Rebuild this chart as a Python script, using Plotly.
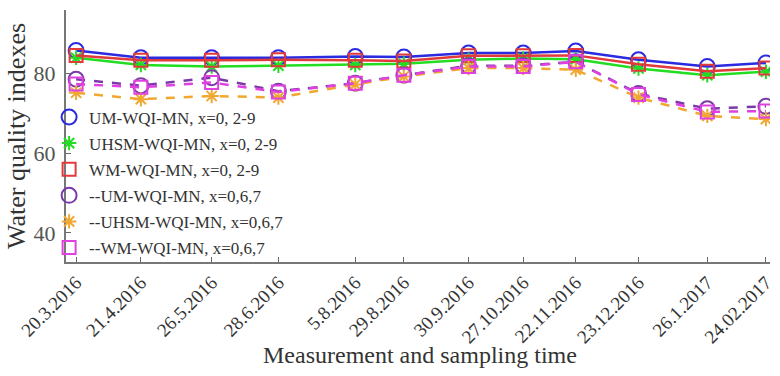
import plotly.graph_objects as go

dates = ["2016-03-20", "2016-04-21", "2016-05-26", "2016-06-28", "2016-08-05", "2016-08-29",
         "2016-09-30", "2016-10-27", "2016-11-22", "2016-12-23", "2017-01-26", "2017-02-24"]
tick_labels = ["20.3.2016", "21.4.2016", "26.5.2016", "28.6.2016", "5.8.2016", "29.8.2016",
               "30.9.2016", "27.10.2016", "22.11.2016", "23.12.2016", "26.1.2017", "24.02.2017"]

um_29 = [85.8, 84.0, 84.0, 84.0, 84.3, 84.2, 85.2, 85.2, 85.7, 83.5, 81.8, 82.7]
uhsm_29 = [84.0, 82.2, 81.8, 82.0, 82.2, 82.5, 83.5, 83.8, 83.6, 81.3, 79.6, 80.5]
wm_29 = [84.6, 83.4, 83.4, 83.5, 83.4, 83.2, 84.5, 84.5, 84.6, 82.4, 80.6, 81.4]
um_067 = [78.6, 77.0, 79.0, 75.6, 77.6, 79.6, 82.0, 82.0, 83.0, 75.0, 71.2, 71.8]
uhsm_067 = [75.2, 73.6, 74.4, 74.0, 77.3, 79.3, 81.4, 81.4, 81.0, 74.0, 69.4, 68.6]
wm_067 = [77.4, 76.6, 77.8, 75.4, 77.6, 79.6, 81.8, 81.8, 83.0, 74.8, 70.4, 70.6]

names = ["UM-WQI-MN, x=0, 2-9", "UHSM-WQI-MN, x=0, 2-9", "WM-WQI-MN, x=0, 2-9",
         "--UM-WQI-MN, x=0,6,7", "--UHSM-WQI-MN, x=0,6,7", "--WM-WQI-MN, x=0,6,7"]
series = [um_29, uhsm_29, wm_29, um_067, uhsm_067, wm_067]
colors = ["#2a2ae0", "#22dd22", "#e03a3a", "#7a3aa8", "#f0a830", "#e040e0"]
symbols = ["circle-open", "asterisk-open", "square-open", "circle-open", "asterisk-open", "square-open"]
dashes = ["solid", "solid", "solid", "dash", "dash", "dash"]
sizes = [15, 12, 13, 15, 12, 13]

fig = go.Figure()
for i in range(6):
    fig.add_trace(go.Scatter(
        x=dates, y=series[i], mode="lines+markers", showlegend=False,
        line=dict(color=colors[i], width=2.5, dash=dashes[i]),
        marker=dict(symbol=symbols[i], size=sizes[i], color=colors[i], line=dict(width=2, color=colors[i])),
    ))
for i in range(6):
    fig.add_trace(go.Scatter(
        x=[None], y=[None], mode="markers", name=names[i], legendgroup=str(i),
        marker=dict(symbol=symbols[i], size=sizes[i], color=colors[i], line=dict(width=2, color=colors[i])),
    ))

serif = "Liberation Serif"
fig.update_layout(
    width=780, height=376,
    margin=dict(l=66, r=10, t=10, b=114),
    plot_bgcolor="white", paper_bgcolor="white",
    font=dict(family=serif, size=16, color="#333333"),
    showlegend=True,
    legend=dict(x=-0.024, y=0.645, xanchor="left", yanchor="top",
                bgcolor="rgba(0,0,0,0)", font=dict(family=serif, size=17, color="#333333"),
                traceorder="grouped", tracegroupgap=1, itemwidth=30),
    xaxis=dict(
        type="date", range=["2016-03-15", "2017-02-26"], automargin=False,
        tickmode="array", tickvals=dates, ticktext=tick_labels, tickangle=-45,
        ticks="inside", ticklen=5, tickcolor="#666666",
        showline=True, linecolor="#777777", linewidth=2, showgrid=False, zeroline=False,
        tickfont=dict(family=serif, size=19, color="#333333"),
    ),
    yaxis=dict(
        range=[32.7, 96], tickvals=[40, 60, 80], ticks="inside", ticklen=5, tickcolor="#666666",
        showline=True, linecolor="#777777", linewidth=2, showgrid=False, zeroline=False, automargin=False,
        tickfont=dict(family=serif, size=22, color="#555555"), ticklabelstandoff=4,
    ),
    annotations=[
        dict(text="Measurement and sampling time", xref="paper", yref="paper", x=0.503, y=-0.37,
             xanchor="center", yanchor="middle", showarrow=False,
             font=dict(family=serif, size=24, color="#333333")),
        dict(text="Water quality indexes", xref="paper", yref="paper", x=-0.071, y=0.50,
             xanchor="center", yanchor="middle", showarrow=False, textangle=-90,
             font=dict(family=serif, size=26, color="#333333")),
    ],
)

fig.write_html("out.html")
